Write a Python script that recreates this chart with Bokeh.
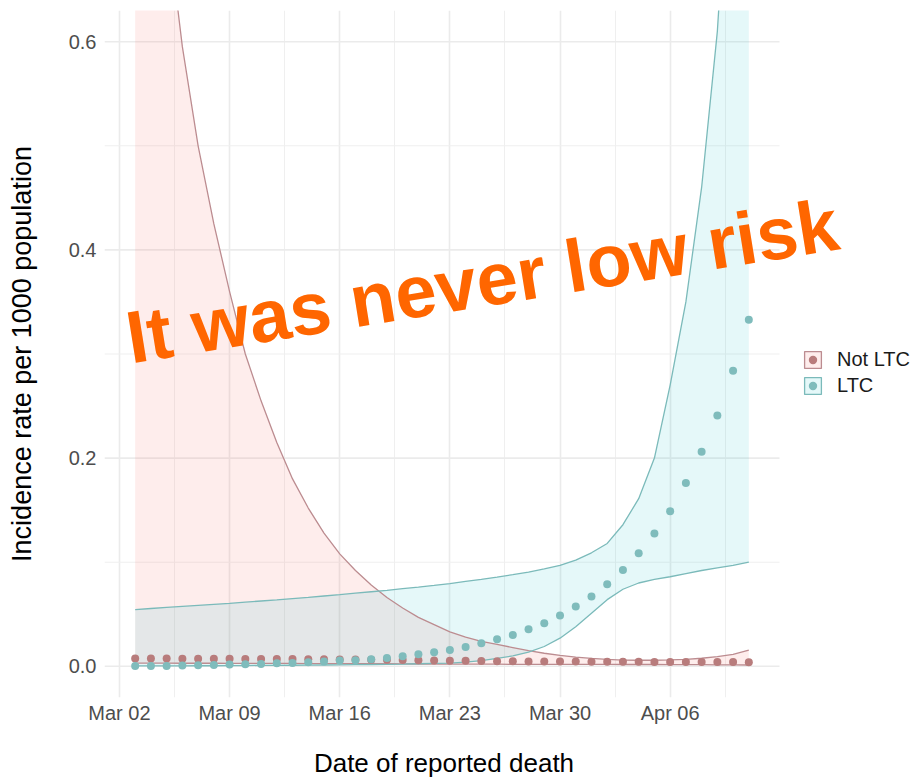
import pandas as pd
from bokeh.plotting import figure
from bokeh.models import (Range1d, FixedTicker, DatetimeTickFormatter, Legend,
                          LegendItem, Label, ColumnDataSource, PrintfTickFormatter)
from bokeh.embed import file_html
from bokeh.resources import INLINE

# ---------------- data ----------------
dates = pd.date_range("2020-03-03", periods=40, freq="D")

not_ltc_rate = [0.0074, 0.0074, 0.0074, 0.0073, 0.0073, 0.0072, 0.0072, 0.0071, 0.0071, 0.0070,
                0.0069, 0.0068, 0.0067, 0.0066, 0.0065, 0.0063, 0.0062, 0.0060, 0.0058, 0.0056,
                0.0054, 0.0052, 0.0050, 0.0049, 0.0048, 0.0047, 0.0046, 0.0045, 0.0045, 0.0044,
                0.0044, 0.0043, 0.0043, 0.0042, 0.0042, 0.0041, 0.0041, 0.0040, 0.0040, 0.0039]
not_ltc_lower = [0.0030, 0.0030, 0.0030, 0.0029, 0.0029, 0.0029, 0.0028, 0.0028, 0.0028, 0.0027,
                 0.0027, 0.0026, 0.0026, 0.0025, 0.0025, 0.0024, 0.0024, 0.0023, 0.0022, 0.0022,
                 0.0021, 0.0021, 0.0020, 0.0020, 0.0019, 0.0019, 0.0019, 0.0018, 0.0018, 0.0018,
                 0.0018, 0.0017, 0.0017, 0.0017, 0.0016, 0.0016, 0.0015, 0.0014, 0.0013, 0.0012]
not_ltc_upper = [1.02, 0.86, 0.72, 0.595, 0.50, 0.425, 0.36, 0.30, 0.255, 0.215,
                 0.18, 0.152, 0.128, 0.108, 0.092, 0.078, 0.066, 0.056, 0.047, 0.040,
                 0.033, 0.028, 0.024, 0.021, 0.018, 0.015, 0.0125, 0.0105, 0.0088, 0.0075,
                 0.0066, 0.0060, 0.0058, 0.0058, 0.0061, 0.0067, 0.0077, 0.0092, 0.0115, 0.0155]

ltc_rate = [0.0003, 0.0003, 0.0003, 0.0007, 0.0010, 0.0013, 0.0016, 0.0019, 0.0022, 0.0029,
            0.0032, 0.0038, 0.0045, 0.0055, 0.0058, 0.0067, 0.0080, 0.0096, 0.0115, 0.0135,
            0.0157, 0.0186, 0.0220, 0.0260, 0.0300, 0.0356, 0.0413, 0.0487, 0.0574, 0.0670,
            0.0788, 0.0926, 0.1086, 0.1276, 0.1490, 0.1760, 0.2060, 0.2410, 0.2840, 0.3330]
ltc_lower = [0.0003, 0.0003, 0.0004, 0.0004, 0.0005, 0.0005, 0.0006, 0.0007, 0.0008, 0.0009,
             0.0010, 0.0011, 0.0012, 0.0013, 0.0015, 0.0017, 0.0019, 0.0021, 0.0024, 0.0027,
             0.0030, 0.0040, 0.0055, 0.0075, 0.0100, 0.0135, 0.0190, 0.0270, 0.0380, 0.0510,
             0.0640, 0.0740, 0.0800, 0.0835, 0.0860, 0.0890, 0.0920, 0.0945, 0.0970, 0.1000]
ltc_upper = [0.0545, 0.0555, 0.0565, 0.0575, 0.0585, 0.0595, 0.0605, 0.0616, 0.0627, 0.0638,
             0.0650, 0.0662, 0.0675, 0.0688, 0.0702, 0.0716, 0.0730, 0.0745, 0.0760, 0.0777,
             0.0795, 0.0815, 0.0835, 0.0857, 0.0880, 0.0905, 0.0935, 0.0970, 0.1020, 0.1090,
             0.1180, 0.1360, 0.1610, 0.2000, 0.2700, 0.3500, 0.4600, 0.6100, 0.8500, 1.2000]

series_labels = ["Not LTC", "LTC"]
y_ticks = [0.0, 0.2, 0.4, 0.6]
y_minor = [0.1, 0.3, 0.5]
x_tick_dates = pd.to_datetime(["2020-03-02", "2020-03-09", "2020-03-16",
                               "2020-03-23", "2020-03-30", "2020-04-06"])
x_title = "Date of reported death"
y_title = "Incidence rate per 1000 population"
annotation = "It was never low risk"

# ---------------- styling / layout ----------------
PINK_FILL, TEAL_FILL = "#F8766D", "#00BFC4"
PINK_LINE, TEAL_LINE = "#BC8C90", "#7BBABA"
PINK_DOT, TEAL_DOT = "#B87C7C", "#7FBCBC"
FONT = "Liberation Sans"
W, H = 913, 782
BORDER_L, BORDER_B, BORDER_T = 104, 85, 10
PANEL_W = 675          # width of the gridded data panel in px
NBSP = "\u00a0"

src = ColumnDataSource(dict(date=dates, nr=not_ltc_rate, nl=not_ltc_lower, nu=not_ltc_upper,
                            lr=ltc_rate, ll=ltc_lower, lu=ltc_upper))

ms = lambda t: t.timestamp() * 1000
day = pd.Timedelta(days=1)
pad = (dates[-1] - dates[0]) * 0.05
x_start = dates[0] - pad
x_panel_end = dates[-1] + pad
frame_w = W - BORDER_L
x_end = x_start + (x_panel_end - x_start) * (frame_w / PANEL_W)

p = figure(width=W, height=H, x_axis_type="datetime",
           x_range=Range1d(x_start, x_end), y_range=Range1d(-0.03, 0.63),
           output_backend="svg", toolbar_location=None,
           min_border_left=BORDER_L, min_border_right=0,
           min_border_top=BORDER_T, min_border_bottom=BORDER_B)
p.outline_line_color = None
p.background_fill_color = "white"

# grid: vertical lines from the x ticker, horizontal lines only across the data panel
x_minor = [ms(t - 3.5 * day) for t in x_tick_dates] + [ms(x_tick_dates[-1] + 3.5 * day)]
p.xgrid.grid_line_color = "#EBEBEB"
p.xgrid.grid_line_width = 1.6
p.xgrid.minor_grid_line_color = "#EFEFEF"
p.xgrid.minor_grid_line_width = 1.1
p.ygrid.visible = False
p.segment(x0=[x_start] * len(y_ticks), x1=[x_panel_end] * len(y_ticks), y0=y_ticks, y1=y_ticks,
          line_color="#EBEBEB", line_width=1.6)
p.segment(x0=[x_start] * len(y_minor), x1=[x_panel_end] * len(y_minor), y0=y_minor, y1=y_minor,
          line_color="#EFEFEF", line_width=1.1)

# ribbons
p.varea(x="date", y1="nl", y2="nu", source=src, fill_color=PINK_FILL, fill_alpha=0.13)
p.varea(x="date", y1="ll", y2="lu", source=src, fill_color=TEAL_FILL, fill_alpha=0.10)
p.line(x="date", y="nu", source=src, line_color=PINK_LINE, line_width=1.3)
p.line(x="date", y="nl", source=src, line_color=PINK_LINE, line_width=1.3)
p.line(x="date", y="lu", source=src, line_color=TEAL_LINE, line_width=1.3)
p.line(x="date", y="ll", source=src, line_color=TEAL_LINE, line_width=1.3)

# points
r_pink = p.scatter(x="date", y="nr", source=src, size=8, fill_color=PINK_DOT, line_color=None)
r_teal = p.scatter(x="date", y="lr", source=src, size=8, fill_color=TEAL_DOT, line_color=None)

# legend key boxes (NaN geometry: never drawn, only used by the legend)
nan = float("nan")
k_pink = p.quad(left=[nan], right=[nan], top=[nan], bottom=[nan], fill_color=PINK_FILL,
                fill_alpha=0.13, line_color=PINK_LINE, line_width=1.3)
k_teal = p.quad(left=[nan], right=[nan], top=[nan], bottom=[nan], fill_color=TEAL_FILL,
                fill_alpha=0.10, line_color=TEAL_LINE, line_width=1.3)

legend = Legend(items=[LegendItem(label=series_labels[0], renderers=[k_pink, r_pink]),
                       LegendItem(label=series_labels[1], renderers=[k_teal, r_teal])],
                location=(PANEL_W + 23, 300), orientation="vertical")
legend.border_line_color = None
legend.background_fill_alpha = 0
legend.padding = 0
legend.margin = 0
legend.spacing = 3
legend.glyph_width = 21
legend.glyph_height = 21
legend.label_height = 21
legend.label_standoff = 14
legend.label_text_font = FONT
legend.label_text_font_size = "20px"
legend.label_text_color = "#1A1A1A"
legend.label_text_baseline = "middle"
p.add_layout(legend, "center")

# axes
p.xaxis.ticker = FixedTicker(ticks=[ms(t) for t in x_tick_dates], minor_ticks=x_minor)
p.xaxis.formatter = DatetimeTickFormatter(days="%b %d", months="%b %d", hours="%b %d",
                                          years="%b %d", strip_leading_zeros=False)
p.yaxis.ticker = FixedTicker(ticks=y_ticks, minor_ticks=y_minor)
p.yaxis.formatter = PrintfTickFormatter(format="%.1f")

for ax in (p.xaxis[0], p.yaxis[0]):
    ax.axis_line_color = None
    ax.major_tick_line_color = None
    ax.minor_tick_line_color = None
    ax.major_tick_out = 0
    ax.major_tick_in = 0
    ax.minor_tick_out = 0
    ax.major_label_text_font = FONT
    ax.major_label_text_font_size = "20px"
    ax.major_label_text_color = "#4D4D4D"
    ax.axis_label_text_font = FONT
    ax.axis_label_text_font_style = "normal"
    ax.axis_label_text_color = "#000000"

p.yaxis.axis_label = y_title
p.yaxis.axis_label_text_font_size = "27px"
# the frame is wider than the data panel (legend sits inside it); pad the label with
# non-breaking spaces so that it stays centred under the data panel
p.xaxis.axis_label = x_title + NBSP * 18
p.xaxis.axis_label_text_font_size = "26px"
p.xaxis.major_label_standoff = 4
p.yaxis.major_label_standoff = 8
p.xaxis.axis_label_standoff = 21
p.yaxis.axis_label_standoff = 29

# overlay annotation
p.add_layout(Label(x=ms(dates[0] - 0.52 * day), y=0.315, text=annotation, angle=0.16,
                   text_font=FONT, text_font_style="bold", text_font_size="74px",
                   text_color="#FF6600", text_baseline="alphabetic", text_align="left"))

open("out.html", "w").write(file_html(p, INLINE))
